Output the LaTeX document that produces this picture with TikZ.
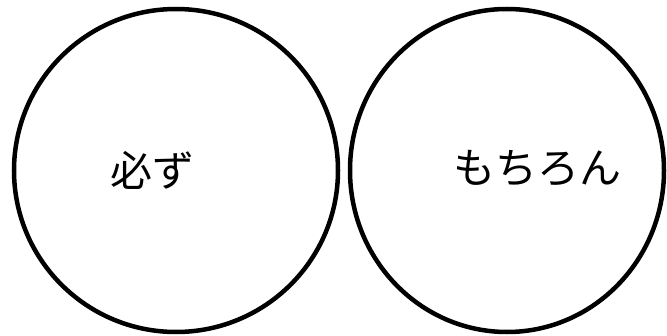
\documentclass[tikz,border=0pt]{standalone}
\usepackage{fontspec}
\newfontfamily\jpfont{Noto Sans CJK JP}
\begin{document}
\begin{tikzpicture}[x=1pt,y=1pt,
  ring/.style={draw=black,line width=4.5pt},
  label/.style={font=\jpfont\fontsize{42}{48}\selectfont\addfontfeature{}, inner sep=0pt}]
\useasboundingbox (0,0) rectangle (667,335);
\begin{scope}
\clip (0,0) rectangle (667,335);
\draw[ring] (176,164.5) ellipse [x radius=162, y radius=161.5];
\draw[ring] (507,164.5) ellipse [x radius=157, y radius=161.5];
\end{scope}
\node[label] (a) at (152,165) {必ず};
\node[label] (b) at (537,167) {もちろん};
\end{tikzpicture}
\end{document}
